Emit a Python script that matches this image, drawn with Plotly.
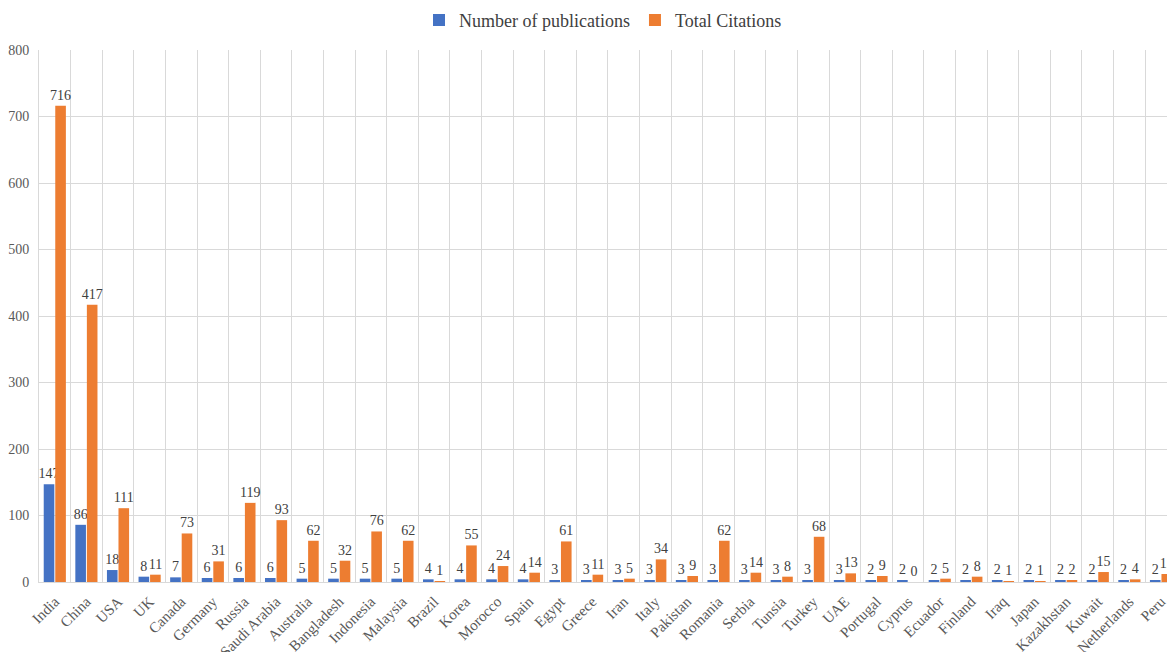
import plotly.graph_objects as go

countries = ["India", "China", "USA", "UK", "Canada", "Germany", "Russia", "Saudi Arabia",
             "Australia", "Bangladesh", "Indonesia", "Malaysia", "Brazil", "Korea", "Morocco",
             "Spain", "Egypt", "Greece", "Iran", "Italy", "Pakistan", "Romania", "Serbia",
             "Tunsia", "Turkey", "UAE", "Portugal", "Cyprus", "Ecuador", "Finland", "Iraq",
             "Japan", "Kazakhstan", "Kuwait", "Netherlands", "Peru"]
publications = [147, 86, 18, 8, 7, 6, 6, 6, 5, 5, 5, 5, 4, 4, 4, 4, 3, 3, 3, 3, 3, 3, 3,
                3, 3, 3, 2, 2, 2, 2, 2, 2, 2, 2, 2, 2]
citations = [716, 417, 111, 11, 73, 31, 119, 93, 62, 32, 76, 62, 1, 55, 24, 14, 61, 11, 5,
             34, 9, 62, 14, 8, 68, 13, 9, 0, 5, 8, 1, 1, 2, 15, 4, 12]
y_ticks = [0, 100, 200, 300, 400, 500, 600, 700, 800]

FONT = "Liberation Serif"
BLUE = "#4472C4"
ORANGE = "#ED7D31"
GRID = "#d9d9d9"
LABEL_FONT = dict(family=FONT, size=14, color="#404040")

fig = go.Figure()
fig.add_trace(go.Bar(
    name="Number of publications", x=countries, y=publications,
    marker=dict(color=BLUE, line=dict(width=0)),
    text=[str(v) for v in publications], textposition="outside",
    textfont=LABEL_FONT, constraintext="none", cliponaxis=False,
))
fig.add_trace(go.Bar(
    name="Total Citations", x=countries, y=citations,
    marker=dict(color=ORANGE, line=dict(width=0)),
    text=[str(v) for v in citations], textposition="outside",
    textfont=LABEL_FONT, constraintext="none", cliponaxis=False,
))

fig.update_layout(
    width=1167, height=652,
    margin=dict(l=39, r=0, t=50, b=70),
    paper_bgcolor="white", plot_bgcolor="white",
    barmode="group", bargap=0.27, bargroupgap=0.08,
    font=dict(family=FONT, color="#595959"),
    legend=dict(
        orientation="h", x=0.5, xanchor="center", y=1.056, yanchor="middle",
        font=dict(family=FONT, size=18, color="#404040"),
        itemwidth=30, traceorder="normal",
    ),
    xaxis=dict(
        type="category", range=[-0.5, 35.19], tickson="boundaries",
        showgrid=True, gridcolor=GRID, gridwidth=1,
        showline=True, linecolor=GRID, linewidth=1,
        ticks="", tickangle=-45, automargin=False, ticklabelstandoff=4,
        tickfont=dict(family=FONT, size=15, color="#595959"),
    ),
    yaxis=dict(
        range=[0, 800], tickvals=y_ticks,
        showgrid=True, gridcolor=GRID, gridwidth=1,
        showline=True, linecolor=GRID, linewidth=1,
        zeroline=False, ticks="", automargin=False, ticklabelstandoff=6,
        tickfont=dict(family=FONT, size=14, color="#595959"),
    ),
)

fig.write_html("out.html")
